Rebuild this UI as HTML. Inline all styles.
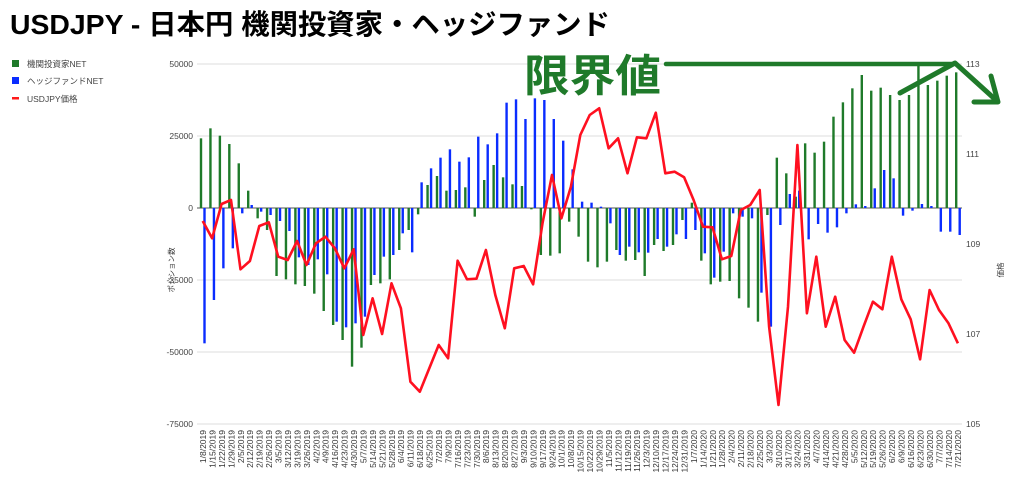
<!DOCTYPE html>
<html><head><meta charset="utf-8">
<style>
html,body{margin:0;padding:0;background:#fff;width:1024px;height:494px;overflow:hidden}
svg{display:block}
text{font-family:"Liberation Sans","Noto Sans CJK JP",sans-serif}
</style></head>
<body>
<svg id="c" width="1024" height="494" xmlns="http://www.w3.org/2000/svg">
<text x="10" y="34" font-size="28" font-weight="bold" fill="#000" textLength="600" lengthAdjust="spacingAndGlyphs">USDJPY - 日本円 機関投資家・ヘッジファンド</text>
<rect x="12" y="60" width="7" height="7" fill="#1f7a2a"/>
<text x="27" y="67" font-size="8.5" fill="#444">機関投資家NET</text>
<rect x="12" y="77" width="7" height="7" fill="#0a2cff"/>
<text x="27" y="84" font-size="8.5" fill="#444">ヘッジファンドNET</text>
<rect x="12" y="97" width="7" height="2.5" fill="#ff1a1a"/>
<text x="27" y="102" font-size="8.5" fill="#444">USDJPY価格</text>
<g id="grid"></g>
<g id="bars"></g>
<g id="line"></g>
<g id="xl"></g>
<text transform="translate(174,270) rotate(-90)" font-size="7.5" fill="#333" text-anchor="middle">ポジション数</text>
<text transform="translate(1003,270) rotate(-90)" font-size="7.5" fill="#333" text-anchor="middle">価格</text>
<text x="524" y="91" font-size="44" font-weight="bold" fill="#1f7a2a" textLength="137" lengthAdjust="spacingAndGlyphs">限界値</text>
<line x1="666" y1="64" x2="952" y2="64" stroke="#1f7a2a" stroke-width="4.5" stroke-linecap="round"/>
<polyline points="900,93 955,63 997,101" fill="none" stroke="#1f7a2a" stroke-width="5" stroke-linecap="round" stroke-linejoin="round"/>
<polyline points="974,102 998,102 991,76" fill="none" stroke="#1f7a2a" stroke-width="5" stroke-linecap="round" stroke-linejoin="round"/>
</svg>
<script>
var NS="http://www.w3.org/2000/svg";
function el(p,t,a,txt){var e=document.createElementNS(NS,t);for(var k in a)e.setAttribute(k,a[k]);if(txt!=null)e.textContent=txt;document.getElementById(p).appendChild(e);return e;}
var yl=[[50000,64],[25000,136],[0,208],[-25000,280],[-50000,352],[-75000,424]];
var yr=["113","111","109","107","105"];
yl.forEach(function(v,i){
 el("grid","line",{x1:197,x2:962,y1:v[1],y2:v[1],stroke:i==2?"#555":"#dcdcdc","stroke-width":1});
 el("grid","text",{x:193,y:v[1]+3,"font-size":8.5,fill:"#444","text-anchor":"end"},String(v[0]));
});
for(var i=0;i<5;i++){el("grid","text",{x:966,y:64+90*i+3,"font-size":8.5,fill:"#444"},yr[i]);}
var G=[265,235,257,282,340,422,505,540,678,688,703,708,731,783,825,870,950,893,705,700,688,600,540,493,405,378,422,420,412,500,390,345,382,403,408,478,615,617,610,515,560,635,652,635,600,632,630,678,585,603,585,510,458,632,703,695,693,745,773,815,495,323,370,440,280,308,275,200,157,115,75,122,113,135,150,135,40,105,92,77,67];
var B=[880,750,655,595,490,465,485,495,513,543,622,645,628,673,815,832,820,800,675,620,615,550,607,397,355,323,298,335,322,260,283,250,158,148,207,145,150,207,272,358,455,458,470,520,615,590,607,608,567,590,553,567,540,610,683,605,490,500,505,728,830,525,432,422,568,522,548,532,490,463,468,415,360,385,497,482,462,468,545,545,555];
var P=[513,565,462,450,658,633,528,517,620,630,573,645,580,560,595,655,598,855,745,852,700,775,995,1025,955,885,925,632,688,686,600,735,835,655,648,703,520,375,505,410,255,195,175,295,265,370,262,265,188,370,365,382,450,530,532,628,618,480,465,420,830,1065,770,285,790,620,830,740,870,908,830,755,778,620,748,808,928,720,780,820,880];
function Y(z){return 50+z/3;}
var z0=208;
for(var i=0;i<81;i++){
 var x=201+9.44*i;
 var g=Y(G[i]),b=Y(B[i]);
 el("bars","rect",{x:x-1.2,y:Math.min(g,z0),width:2.4,height:Math.abs(g-z0),fill:"#1f7a2a"});
 el("bars","rect",{x:x+2.3,y:Math.min(b,z0),width:2.4,height:Math.abs(b-z0),fill:"#0a2cff"});
}
var pts=P.map(function(z,i){return (202.7+9.44*i).toFixed(1)+","+Y(z).toFixed(1);}).join(" ");
el("line","polyline",{points:pts,fill:"none",stroke:"#ff1020","stroke-width":2.6,"stroke-linejoin":"round"});
var d=new Date(2019,0,8);
for(var i=0;i<81;i++){
 var s=(d.getMonth()+1)+"/"+d.getDate()+"/"+d.getFullYear();
 var x=203+9.44*i+3;
 el("xl","text",{transform:"translate("+x.toFixed(1)+",430) rotate(-90)","font-size":8.5,fill:"#333","text-anchor":"end"},s);
 d.setDate(d.getDate()+7);
}
</script>
</body></html>
